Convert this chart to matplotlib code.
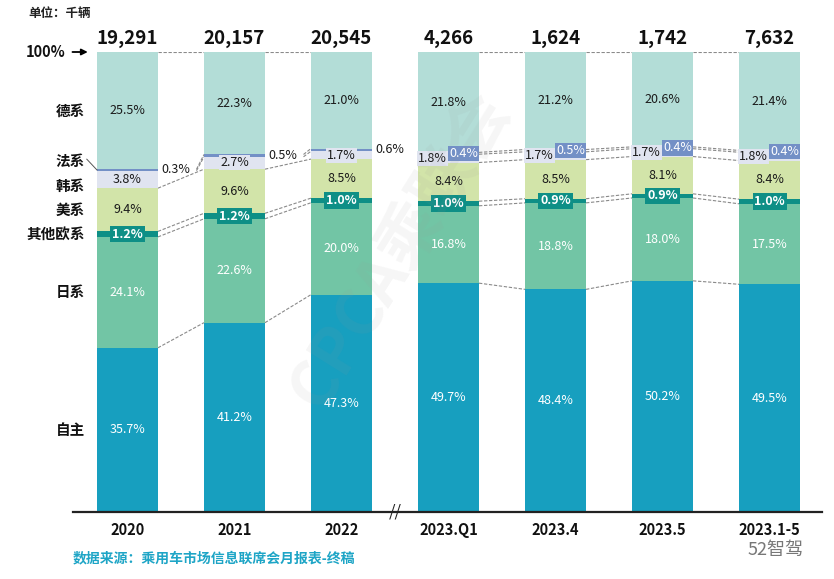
import numpy as np
import matplotlib
matplotlib.use('Agg')
import matplotlib.pyplot as plt

plt.rcParams['font.family'] = ['Noto Sans CJK SC', 'DejaVu Sans']

periods = ['2020', '2021', '2022', '2023.Q1', '2023.4', '2023.5', '2023.1-5']
totals = ['19,291', '20,157', '20,545', '4,266', '1,624', '1,742', '7,632']
series = ['自主', '日系', '其他欧系', '美系', '韩系', '法系', '德系']
zizhu = [35.7, 41.2, 47.3, 49.7, 48.4, 50.2, 49.5]
rixi = [24.1, 22.6, 20.0, 16.8, 18.8, 18.0, 17.5]
qita_ou = [1.2, 1.2, 1.0, 1.0, 0.9, 0.9, 1.0]
meixi = [9.4, 9.6, 8.5, 8.4, 8.5, 8.1, 8.4]
hanxi = [3.8, 2.7, 1.7, 1.8, 1.7, 1.7, 1.8]
faxi = [0.3, 0.5, 0.6, 0.4, 0.5, 0.4, 0.4]
dexi = [25.5, 22.3, 21.0, 21.8, 21.2, 20.6, 21.4]

colors = ['#179fbf', '#72c5a5', '#0e8f86', '#d2e4a9', '#e0e4f0', '#7390c6', '#b3ddd7']
text_colors = ['white', 'white', 'white', '#1a1a1a', '#1a1a1a', 'white', '#1a1a1a']

data = np.array([zizhu, rixi, qita_ou, meixi, hanxi, faxi, dexi])
shares = data / data.sum(axis=0) * 100
cum = np.vstack([np.zeros(len(periods)), np.cumsum(shares, axis=0)])

W, H = 834, 579
fig = plt.figure(figsize=(W / 100, H / 100), dpi=100)
ax = fig.add_axes([73 / W, (H - 512) / H, (822 - 73) / W, (512 - 52) / H])
x = np.arange(len(periods))
bw = 0.57
ax.set_xlim(-0.509, 6.49)
ax.set_ylim(0, 100)

for i, s in enumerate(series):
    ax.bar(x, shares[i], bottom=cum[i], width=bw, color=colors[i], edgecolor='none', zorder=2)

# connecting dashed lines
bounds = [1, 2, 3, 4, 5, 6, 7]
for j in range(len(periods) - 1):
    if j == 2:
        continue
    for b in bounds:
        x0 = x[j] + bw / 2
        if b in (5, 6) and j <= 1:
            x0 += 0.36
        ax.plot([x0, x[j + 1] - bw / 2], [cum[b][j], cum[b][j + 1]],
                color='#8a8a8a', lw=0.8, ls=(0, (3, 1.5)), zorder=1)

lab_fs = 9
fw = 'medium'
for j in range(len(periods)):
    for i in range(len(series)):
        yc = cum[i][j] + shares[i][j] / 2
        txt = f'{data[i][j]:.1f}%'
        if i == 2:
            ax.text(x[j], yc, txt, ha='center', va='center', color='white', fontsize=lab_fs,
                    fontweight='bold', zorder=5,
                    bbox=dict(boxstyle='square,pad=0.14', fc=colors[2], ec='none'))
        elif i == 5:
            if j <= 2:
                ax.text(x[j] + bw / 2 + 0.03, yc, txt, ha='left', va='center', color='#1a1a1a',
                        fontsize=lab_fs, fontweight=fw, zorder=5)
            else:
                ax.text(x[j] + 0.14, yc, txt, ha='center', va='center', color='white',
                        fontsize=lab_fs, fontweight=fw, zorder=6,
                        bbox=dict(boxstyle='square,pad=0.1', fc=colors[5], ec='none'))
        elif i == 4:
            xo = 0 if j <= 2 else -0.15
            ax.text(x[j] + xo, yc, txt, ha='center', va='center', color='#1a1a1a',
                    fontsize=lab_fs, fontweight=fw, zorder=5,
                    bbox=dict(boxstyle='square,pad=0.08', fc=colors[4], ec='none'))
        else:
            ax.text(x[j], yc, txt, ha='center', va='center', color=text_colors[i],
                    fontsize=lab_fs, fontweight=fw, zorder=5)
    ax.annotate(totals[j], (x[j], 100), xytext=(0, 3), textcoords='offset points',
                ha='center', va='bottom', fontsize=13.5, fontweight='bold', color='#111111',
                annotation_clip=False)

# left category labels
lx = -0.40
lab_y = {
    '德系': cum[6][0] + shares[6][0] / 2,
    '法系': cum[5][0] + 2.2,
    '韩系': cum[4][0] + shares[4][0] / 2 - 1.4,
    '美系': cum[3][0] + shares[3][0] / 2,
    '其他欧系': cum[2][0] + shares[2][0] / 2,
    '日系': cum[1][0] + shares[1][0] / 2,
    '自主': cum[0][0] + shares[0][0] / 2,
}
for name, yy in lab_y.items():
    ax.text(lx, yy, name, ha='right', va='center', fontsize=10.5, fontweight='bold',
            color='#111111', clip_on=False)
ax.plot([lx + 0.02, x[0] - bw / 2], [lab_y['法系'] + 0.3, cum[5][0] + shares[5][0] / 2],
        color='#555555', lw=0.7, clip_on=False)

# 100% arrow
ax.annotate('', xy=(x[0] - bw / 2 - 0.06, 100), xytext=(-0.54, 100),
            arrowprops=dict(arrowstyle='-|>', color='black', lw=1.3, mutation_scale=9),
            annotation_clip=False)
ax.text(-0.58, 100, '100%', ha='right', va='center', fontsize=10.5, fontweight='bold',
        color='#111111', clip_on=False)

# axes styling
for sp in ['top', 'right', 'left']:
    ax.spines[sp].set_visible(False)
ax.spines['bottom'].set_linewidth(1.6)
ax.spines['bottom'].set_color('#222222')
ax.set_yticks([])
ax.set_xticks(x)
ax.set_xticklabels(periods, fontsize=10.5, fontweight='bold', color='#111111')
ax.tick_params(axis='x', length=0, pad=7)
ax.text(2.5, 0, '//', ha='center', va='center', fontsize=12, color='#222222', zorder=6,
        clip_on=False)

fig.text(28 / W, 1 - 13 / H, '单位：千辆', ha='left', va='center', fontsize=9,
         fontweight='bold', color='#222222')
fig.text(73 / W, 1 - 558 / H, '数据来源：乘用车市场信息联席会月报表-终稿', ha='left', va='center',
         fontsize=10, fontweight='bold', color='#1ea5c6')
fig.text(748 / W, 1 - 550 / H, '52智驾', ha='left', va='center', fontsize=13,
         color='#777777')

# watermark
fig.text(400 / W, 1 - 250 / H, 'CPCA乘联会', ha='center', va='center', fontsize=46,
         fontweight='bold', rotation=58, color='#999999', alpha=0.09, zorder=10)

fig.savefig('out.png', dpi=100, facecolor='white')
